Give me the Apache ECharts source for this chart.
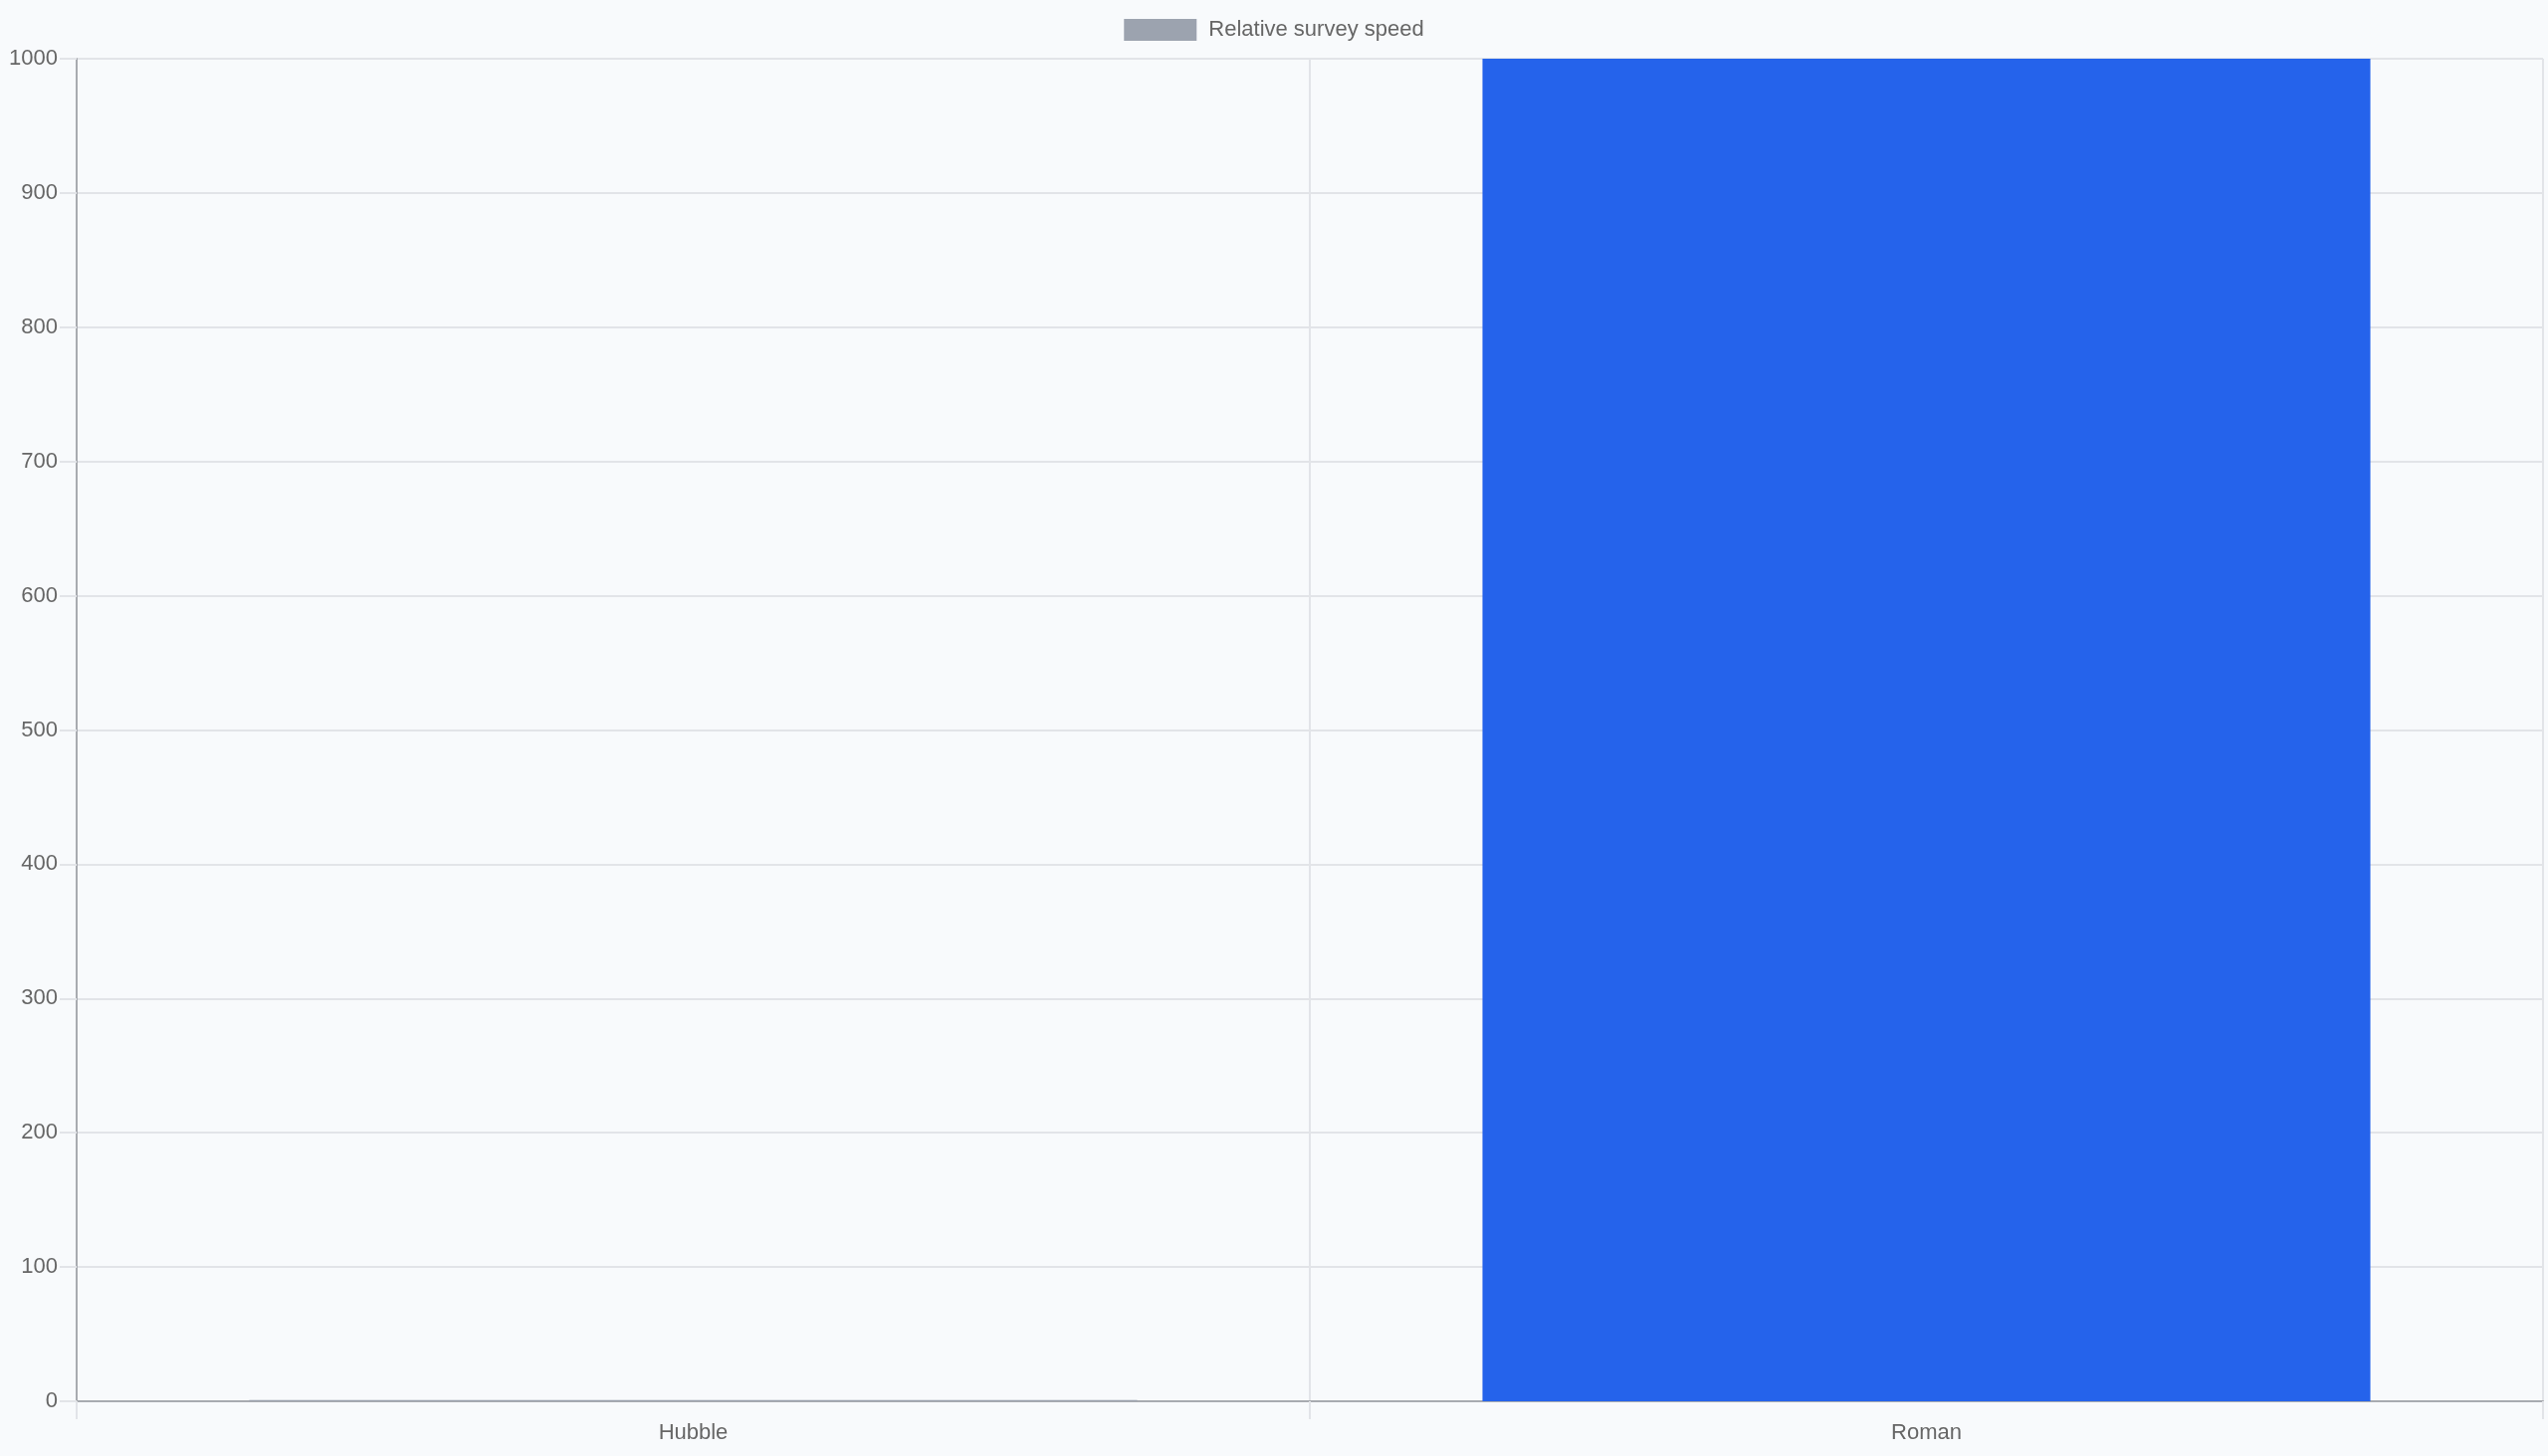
<!DOCTYPE html>
<html>
<head>
<meta charset="utf-8">
<script src="https://cdn.jsdelivr.net/npm/echarts@6/dist/echarts.min.js"></script>
<style>
  html, body { margin: 0; padding: 0; background: #f8fafc; }
  #chart { width: 2560px; height: 1463px; }
</style>
</head>
<body>
<div id="chart"></div>
<script>
const categories = ['Hubble', 'Roman'];
const seriesName = 'Relative survey speed';
const values = [1, 1000];
const barColors = ['#9ca3af', '#2563eb'];
const yTicks = { min: 0, max: 1000, interval: 100 };

const FONT = '"Liberation Sans", Arial, Helvetica, sans-serif';
const TEXT = '#666666';
const GRID = '#e2e4e8';
const AXIS = '#a8abb0';

const chart = echarts.init(document.getElementById('chart'), null, { renderer: 'canvas' });
chart.setOption({
  animation: false,
  backgroundColor: '#f8fafc',
  textStyle: { fontFamily: FONT },
  legend: {
    show: true,
    top: 19,
    left: 'center',
    padding: 0,
    itemWidth: 73,
    itemHeight: 22,
    icon: 'rect',
    data: [seriesName],
    textStyle: { fontFamily: FONT, fontSize: 22, color: TEXT, padding: [2, 0, 0, 7] }
  },
  grid: { left: 77, right: 5, top: 59, bottom: 55, containLabel: false },
  xAxis: {
    type: 'category',
    data: categories,
    boundaryGap: true,
    axisLine: { show: true, lineStyle: { color: AXIS, width: 2 } },
    axisTick: { show: true, length: 18, lineStyle: { color: GRID, width: 2 } },
    splitLine: { show: true, lineStyle: { color: GRID, width: 2 } },
    axisLabel: { fontFamily: FONT, fontSize: 22, color: TEXT, margin: 21 }
  },
  yAxis: {
    type: 'value',
    min: yTicks.min,
    max: yTicks.max,
    interval: yTicks.interval,
    axisLine: { show: true, lineStyle: { color: AXIS, width: 2 } },
    axisTick: { show: true, length: 17, lineStyle: { color: GRID, width: 2 } },
    splitLine: { show: true, lineStyle: { color: GRID, width: 2 } },
    axisLabel: {
      fontFamily: FONT, fontSize: 22, color: TEXT, margin: 19,
      padding: [3, 0, 0, 0],
      formatter: v => String(v)
    }
  },
  series: [{
    name: seriesName,
    type: 'bar',
    barCategoryGap: '28%',
    itemStyle: { color: barColors[0] },
    data: values.map((v, i) => ({ value: v, itemStyle: { color: barColors[i] } }))
  }]
});
</script>
</body>
</html>
